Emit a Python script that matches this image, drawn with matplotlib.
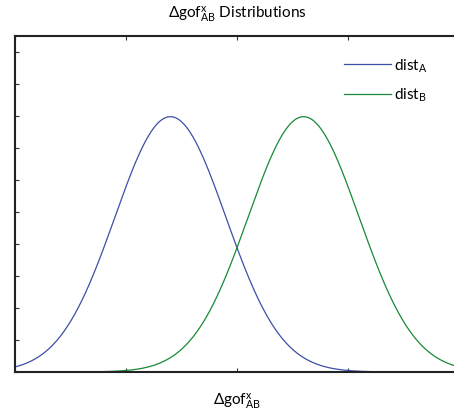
import numpy as np
import matplotlib
matplotlib.use("Agg")
import matplotlib.pyplot as plt

plt.rcParams['font.family'] = ['Lato', 'DejaVu Sans']
plt.rcParams['mathtext.fontset'] = 'custom'
plt.rcParams['mathtext.rm'] = 'Lato'
plt.rcParams['mathtext.it'] = 'Lato'

# data
series_names = ["dist_A", "dist_B"]
means = [-1.2, 1.2]
sigmas = [1.0, 1.0]
colors = ['#3d4fa6', '#178a35']
x_ticks = [-4, -2, 0, 2, 4]
y_ticks = [0.0, 0.05, 0.1, 0.15, 0.2, 0.25, 0.3, 0.35, 0.4, 0.45, 0.5]

fig = plt.figure(figsize=(4.54, 4.14), dpi=100)
ax = fig.add_axes([15/454, 41/414, 444/454, 336/414])

x = np.linspace(-4, 4, 801)
labels = [r'dist$_{\mathrm{A}}$', r'dist$_{\mathrm{B}}$']
for m, s, c, lab in zip(means, sigmas, colors, labels):
    y = np.exp(-(x - m)**2 / (2 * s**2)) / (s * np.sqrt(2 * np.pi))
    ax.plot(x, y, color=c, lw=0.9, label=lab)

ax.set_xlim(-4, 4)
ax.set_ylim(0, 0.525)
ax.set_xticks(x_ticks)
ax.set_yticks(y_ticks)
ax.set_xticklabels([])
ax.set_yticklabels([])
ax.tick_params(direction='in', length=3, width=0.8, top=True, right=True, color='#333333')
for sp in ax.spines.values():
    sp.set_linewidth(1.5)
    sp.set_color('#222222')

ax.set_title(r'$\Delta$gof$^{\mathrm{x}}_{\mathrm{AB}}$ Distributions', fontsize=11, pad=13)
ax.set_xlabel(r'$\Delta$gof$^{\mathrm{x}}_{\mathrm{AB}}$', fontsize=11, labelpad=10)

leg = ax.legend(loc='upper left', bbox_to_anchor=(0.71, 0.98), frameon=False,
                fontsize=11, handlelength=3.1, handletextpad=0.15, labelspacing=0.8)

fig.savefig('out.png', dpi=100)
